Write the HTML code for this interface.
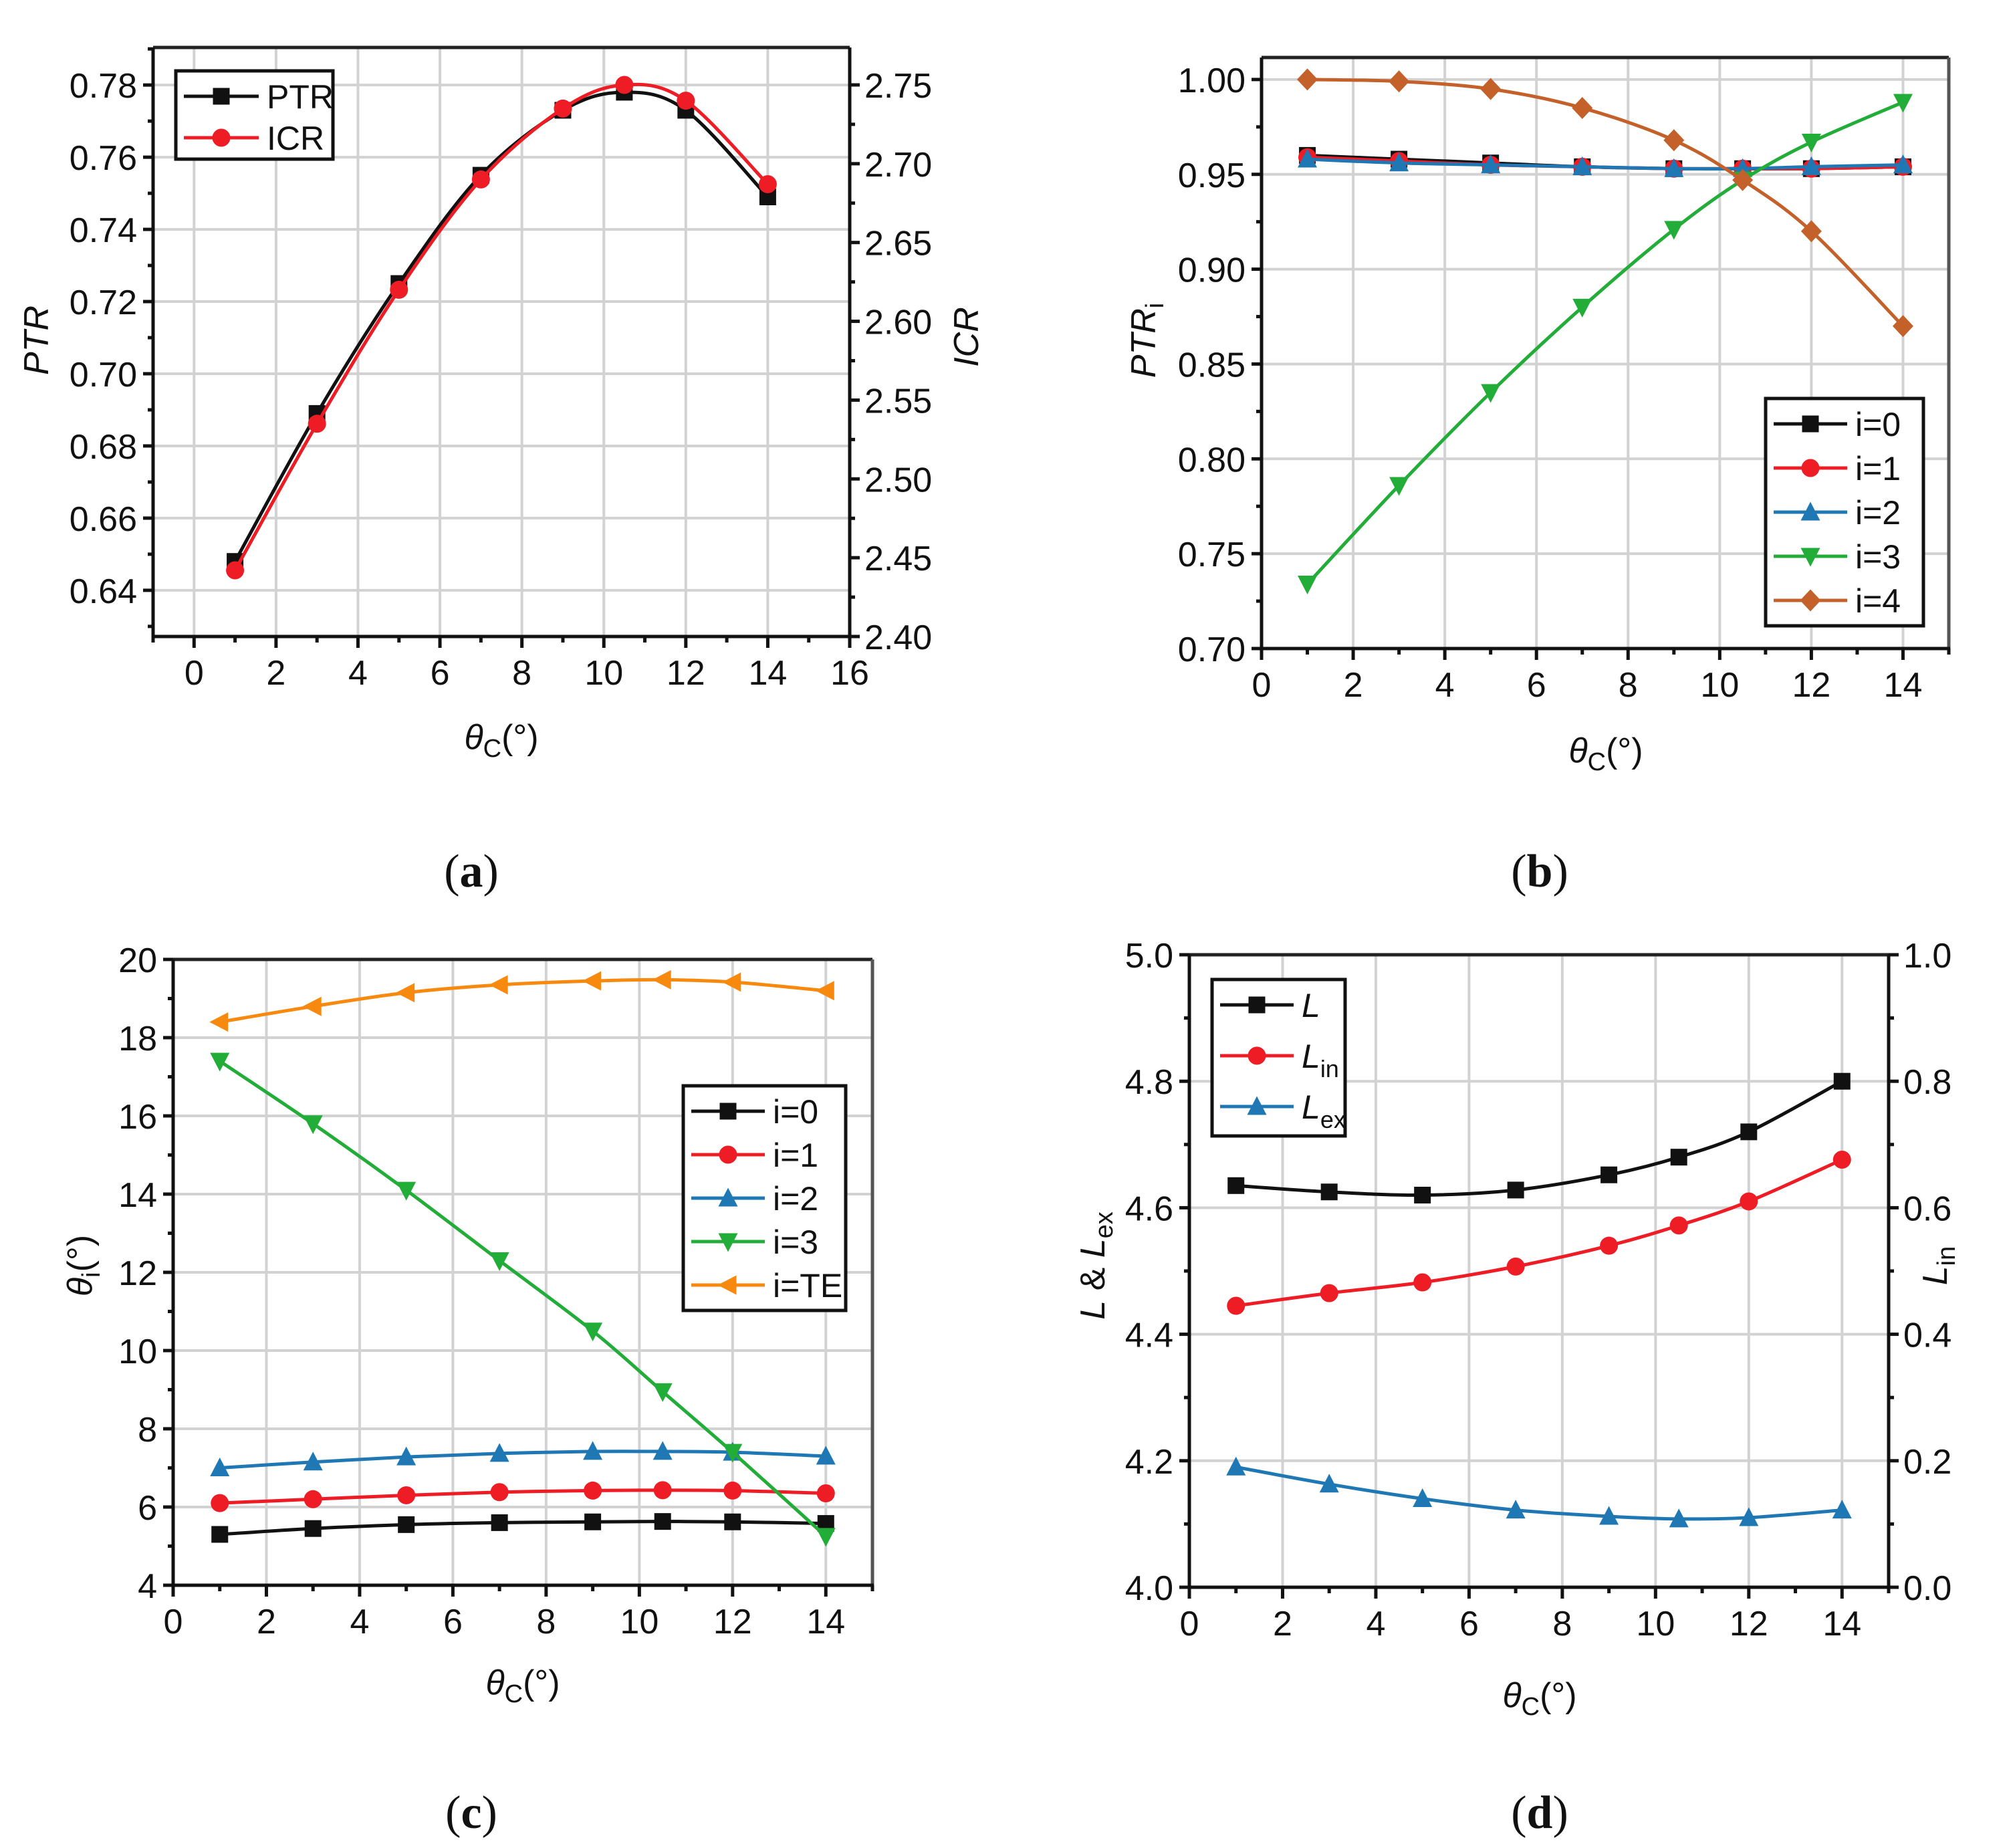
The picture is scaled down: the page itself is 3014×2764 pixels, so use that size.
<!DOCTYPE html>
<html><head><meta charset="utf-8">
<style>
html,body{margin:0;padding:0;background:#fff;}
svg{display:block;}
text{font-family:"Liberation Sans",sans-serif;}
</style></head>
<body>
<svg id="fig" width="3014" height="2764" viewBox="0 0 3014 2764" xmlns="http://www.w3.org/2000/svg"></svg>
<script>
// ---- data ----
const thetaC = [1, 3, 5, 7, 9, 10.5, 12, 14];
// panel a
const ptrValues = [0.648, 0.689, 0.725, 0.755, 0.773, 0.778, 0.773, 0.749];
const icrValues = [2.442, 2.535, 2.620, 2.690, 2.735, 2.750, 2.740, 2.687];
const aXTicks = [0, 2, 4, 6, 8, 10, 12, 14, 16];
const aYTicks = [0.64, 0.66, 0.68, 0.70, 0.72, 0.74, 0.76, 0.78];
const aYTickLabels = ["0.64", "0.66", "0.68", "0.70", "0.72", "0.74", "0.76", "0.78"];
const aY2Ticks = [2.40, 2.45, 2.50, 2.55, 2.60, 2.65, 2.70, 2.75];
const aY2TickLabels = ["2.40", "2.45", "2.50", "2.55", "2.60", "2.65", "2.70", "2.75"];
// panel b
const ptrI0 = [0.960, 0.958, 0.956, 0.954, 0.953, 0.953, 0.953, 0.954];
const ptrI1 = [0.959, 0.957, 0.955, 0.954, 0.953, 0.953, 0.953, 0.954];
const ptrI2 = [0.958, 0.956, 0.955, 0.954, 0.953, 0.953, 0.954, 0.955];
const ptrI3 = [0.734, 0.786, 0.835, 0.880, 0.921, 0.947, 0.967, 0.988];
const ptrI4 = [1.000, 0.999, 0.995, 0.985, 0.968, 0.947, 0.920, 0.870];
const bXTicks = [0, 2, 4, 6, 8, 10, 12, 14];
const bYTicks = [0.70, 0.75, 0.80, 0.85, 0.90, 0.95, 1.00];
const bYTickLabels = ["0.70", "0.75", "0.80", "0.85", "0.90", "0.95", "1.00"];
// panel c
const thI0 = [5.30, 5.45, 5.55, 5.60, 5.62, 5.63, 5.62, 5.58];
const thI1 = [6.10, 6.20, 6.30, 6.38, 6.42, 6.43, 6.42, 6.35];
const thI2 = [7.00, 7.15, 7.28, 7.37, 7.42, 7.42, 7.40, 7.30];
const thI3 = [17.4, 15.8, 14.1, 12.3, 10.5, 8.95, 7.40, 5.25];
const thTE = [18.4, 18.8, 19.15, 19.35, 19.45, 19.48, 19.42, 19.2];
const cXTicks = [0, 2, 4, 6, 8, 10, 12, 14];
const cYTicks = [4, 6, 8, 10, 12, 14, 16, 18, 20];
const cYTickLabels = ["4", "6", "8", "10", "12", "14", "16", "18", "20"];
// panel d
const lenL = [4.635, 4.625, 4.620, 4.628, 4.652, 4.680, 4.720, 4.800];
const lenIn = [0.445, 0.465, 0.482, 0.507, 0.540, 0.572, 0.610, 0.676];
const lenEx = [4.190, 4.163, 4.140, 4.122, 4.112, 4.108, 4.110, 4.122];
const dXTicks = [0, 2, 4, 6, 8, 10, 12, 14];
const dYTicks = [4.0, 4.2, 4.4, 4.6, 4.8, 5.0];
const dYTickLabels = ["4.0", "4.2", "4.4", "4.6", "4.8", "5.0"];
const dY2Ticks = [0.0, 0.2, 0.4, 0.6, 0.8, 1.0];
const dY2TickLabels = ["0.0", "0.2", "0.4", "0.6", "0.8", "1.0"];

const NS = "http://www.w3.org/2000/svg";
const svg = document.getElementById("fig");
function mk(tag, attrs, parent) {
  const e = document.createElementNS(NS, tag);
  for (const k in attrs) e.setAttribute(k, attrs[k]);
  (parent || svg).appendChild(e);
  return e;
}
function scale(d0, d1, r0, r1) { return v => r0 + (v - d0) / (d1 - d0) * (r1 - r0); }

function smoothPath(pts) {
  let d = "M" + pts[0][0] + "," + pts[0][1];
  for (let i = 0; i < pts.length - 1; i++) {
    const p0 = pts[i - 1] || pts[i], p1 = pts[i], p2 = pts[i + 1], p3 = pts[i + 2] || p2;
    const c1x = p1[0] + (p2[0] - p0[0]) / 6, c1y = p1[1] + (p2[1] - p0[1]) / 6;
    const c2x = p2[0] - (p3[0] - p1[0]) / 6, c2y = p2[1] - (p3[1] - p1[1]) / 6;
    d += " C" + c1x + "," + c1y + " " + c2x + "," + c2y + " " + p2[0] + "," + p2[1];
  }
  return d;
}

function marker(g, shape, x, y, color) {
  const s = 12.5;
  let e;
  if (shape === "square") e = mk("rect", {x: x - s, y: y - s, width: 2 * s, height: 2 * s, fill: color}, g);
  else if (shape === "circle") e = mk("circle", {cx: x, cy: y, r: s + 1, fill: color}, g);
  else if (shape === "up") e = mk("polygon", {points: `${x},${y - s - 3} ${x + s + 2},${y + s} ${x - s - 2},${y + s}`, fill: color}, g);
  else if (shape === "down") e = mk("polygon", {points: `${x},${y + s + 3} ${x + s + 2},${y - s} ${x - s - 2},${y - s}`, fill: color}, g);
  else if (shape === "diamond") e = mk("polygon", {points: `${x},${y - s - 4} ${x + s + 3},${y} ${x},${y + s + 4} ${x - s - 3},${y}`, fill: color}, g);
  else if (shape === "left") e = mk("polygon", {points: `${x - s - 3},${y} ${x + s},${y - s - 2} ${x + s},${y + s + 2}`, fill: color}, g);
  return e;
}

function panel(c) {
  const g = mk("g", {});
  
  
  const X = scale(c.xd[0], c.xd[1], c.L, c.R);
  const Y = scale(c.yd[0], c.yd[1], c.B, c.T);
  const Y2 = c.y2d ? scale(c.y2d[0], c.y2d[1], c.B, c.T) : null;
  const grid = mk("g", {stroke: "#d2d2d2", "stroke-width": 4}, g);
  
  
  c.xt.forEach(v => { const x = X(v); if (x > c.L + 3 && x < c.R - 3) mk("line", {x1: x, y1: c.T, x2: x, y2: c.B}, grid); });
  c.yt.forEach(v => { const y = Y(v); if (y > c.T + 3 && y < c.B - 3) mk("line", {x1: c.L, y1: y, x2: c.R, y2: y}, grid); });
  mk("line", {x1: c.L, y1: c.T, x2: c.R, y2: c.T, stroke: "#222", "stroke-width": 5}, g);
  mk("line", {x1: c.R, y1: c.T, x2: c.R, y2: c.B, stroke: c.y2d ? "#111" : "#555", "stroke-width": 5}, g);
  const ax = mk("g", {stroke: "#111", "stroke-width": 5}, g);
  
  
  mk("line", {x1: c.L, y1: c.T, x2: c.L, y2: c.B + 2}, ax);
  mk("line", {x1: c.L - 2, y1: c.B, x2: c.R + 2, y2: c.B}, ax);
  for (let v = c.xd[0]; v <= c.xd[1] + 1e-6; v += c.xminor) {
    const x = X(v);
    const major = c.xt.some(t => Math.abs(t - v) < 1e-6);
    mk("line", {x1: x, y1: c.B, x2: x, y2: c.B + (major ? 17 : 9)}, ax);
  }
  const xl = mk("g", {"font-size": 52, fill: "#111", "text-anchor": "middle"}, g);
  
  
  c.xt.forEach(v => { const t = mk("text", {x: X(v), y: c.B + 72}, xl); t.textContent = String(v); });
  const y0 = Math.ceil((c.yd[0] - 1e-9) / c.yminor) * c.yminor;
  for (let v = y0; v <= c.yd[1] + 1e-9; v += c.yminor) {
    const y = Y(v);
    const major = c.yt.some(t => Math.abs(t - v) < 1e-6);
    mk("line", {x1: c.L, y1: y, x2: c.L - (major ? 15 : 8), y2: y}, ax);
  }
  const yl = mk("g", {"font-size": 52, fill: "#111", "text-anchor": "end"}, g);
  
  
  c.yt.forEach((v, i) => { const t = mk("text", {x: c.L - 24, y: Y(v) + 19}, yl); t.textContent = c.ytl[i]; });
  if (Y2) {
    mk("line", {x1: c.R, y1: c.T, x2: c.R, y2: c.B + 2}, ax);
    const yy0 = Math.ceil((c.y2d[0] - 1e-9) / c.y2minor) * c.y2minor;
    for (let v = yy0; v <= c.y2d[1] + 1e-9; v += c.y2minor) {
      const y = Y2(v);
      const major = c.y2t.some(t => Math.abs(t - v) < 1e-6);
      mk("line", {x1: c.R, y1: y, x2: c.R + (major ? 15 : 8), y2: y}, ax);
    }
    const y2l = mk("g", {"font-size": 52, fill: "#111", "text-anchor": "start"}, g);
    
    
    c.y2t.forEach((v, i) => { const t = mk("text", {x: c.R + 22, y: Y2(v) + 19}, y2l); t.textContent = c.y2tl[i]; });
  }
  c.series.forEach(s => {
    const sy = s.right ? Y2 : Y;
    const sg = mk("g", {}, g);
    
    
    const pts = thetaC.map((x, i) => [X(x), sy(s.ys[i])]);
    mk("path", {d: smoothPath(pts), fill: "none", stroke: s.color, "stroke-width": 5}, sg);
    pts.forEach(p => {
      const m = marker(sg, s.shape, p[0], p[1], s.color);
      
      
    });
  });
  const lg = mk("g", {}, g);
  
  
  const Lb = c.leg;
  mk("rect", {x: Lb.x, y: Lb.y, width: Lb.w, height: Lb.h, fill: "#fff", stroke: "#111", "stroke-width": 5}, lg);
  c.series.forEach((s, i) => {
    const e = mk("g", {}, lg);
    
    
    const y = Lb.y + Lb.r0 + i * Lb.dy;
    mk("line", {x1: Lb.x + 12, y1: y, x2: Lb.x + 12 + Lb.lw, y2: y, stroke: s.color, "stroke-width": 5}, e);
    marker(e, s.shape, Lb.x + 12 + Lb.lw / 2, y, s.color);
    const t = mk("text", {x: Lb.x + 24 + Lb.lw, y: y + 18, "font-size": 50, fill: "#111"}, e);
    t.innerHTML = s.label;
  });
  return g;
}

function txt(name, attrs, html) {
  const t = mk("text", attrs);
  
  
  t.innerHTML = html;
  return t;
}

const colBlack = "#111", colRed = "#ee1c25", colBlue = "#1f78b4", colGreen = "#22ac38", colBrown = "#c4612a", colOrange = "#f7890f";

panel({name: "panel-a", L: 229, R: 1271, T: 71, B: 952, xd: [-1, 16], yd: [0.6272, 0.7904], y2d: [2.40, 2.75 + (127 - 71) * 0.35 / 825],
  xt: aXTicks, xminor: 1, yt: aYTicks, ytl: aYTickLabels, yminor: 0.01, y2t: aY2Ticks, y2tl: aY2TickLabels, y2minor: 0.025,
  series: [
    {id: "ptr-series", ys: ptrValues, color: colBlack, shape: "square", label: "PTR"},
    {id: "icr-series", ys: icrValues, color: colRed, shape: "circle", label: "ICR", right: true}
  ],
  leg: {x: 263, y: 106, w: 235, h: 132, r0: 38, dy: 62, lw: 112}});

panel({name: "panel-b", L: 1887, R: 2915, T: 86, B: 970, xd: [0, 15], yd: [0.70, 1.0116],
  xt: bXTicks, xminor: 1, yt: bYTicks, ytl: bYTickLabels, yminor: 0.025,
  series: [
    {id: "ptr-i0", ys: ptrI0, color: colBlack, shape: "square", label: "i=0"},
    {id: "ptr-i1", ys: ptrI1, color: colRed, shape: "circle", label: "i=1"},
    {id: "ptr-i2", ys: ptrI2, color: colBlue, shape: "up", label: "i=2"},
    {id: "ptr-i3", ys: ptrI3, color: colGreen, shape: "down", label: "i=3"},
    {id: "ptr-i4", ys: ptrI4, color: colBrown, shape: "diamond", label: "i=4"}
  ],
  leg: {x: 2641, y: 596, w: 236, h: 340, r0: 38, dy: 66, lw: 110}});

panel({name: "panel-c", L: 259, R: 1305, T: 1435, B: 2371, xd: [0, 15], yd: [4, 20],
  xt: cXTicks, xminor: 1, yt: cYTicks, ytl: cYTickLabels, yminor: 1,
  series: [
    {id: "theta-i0", ys: thI0, color: colBlack, shape: "square", label: "i=0"},
    {id: "theta-i1", ys: thI1, color: colRed, shape: "circle", label: "i=1"},
    {id: "theta-i2", ys: thI2, color: colBlue, shape: "up", label: "i=2"},
    {id: "theta-i3", ys: thI3, color: colGreen, shape: "down", label: "i=3"},
    {id: "theta-te", ys: thTE, color: colOrange, shape: "left", label: "i=TE"}
  ],
  leg: {x: 1022, y: 1624, w: 243, h: 336, r0: 38, dy: 65, lw: 110}});

panel({name: "panel-d", L: 1779, R: 2825, T: 1428, B: 2374, xd: [0, 15], yd: [4.0, 5.0], y2d: [0, 1],
  xt: dXTicks, xminor: 1, yt: dYTicks, ytl: dYTickLabels, yminor: 0.1, y2t: dY2Ticks, y2tl: dY2TickLabels, y2minor: 0.1,
  series: [
    {id: "length-l", ys: lenL, color: colBlack, shape: "square", label: '<tspan font-style="italic">L</tspan>'},
    {id: "length-in", ys: lenIn, color: colRed, shape: "circle", label: '<tspan font-style="italic">L</tspan><tspan font-size="36" dy="14">in</tspan>', right: true},
    {id: "length-ex", ys: lenEx, color: colBlue, shape: "up", label: '<tspan font-style="italic">L</tspan><tspan font-size="36" dy="14">ex</tspan>'}
  ],
  leg: {x: 1813, y: 1465, w: 199, h: 234, r0: 38, dy: 76, lw: 110}});

const thetaC_html = '<tspan font-style="italic">θ</tspan><tspan font-size="38" dy="12">C</tspan><tspan dy="-12">(°)</tspan>';
txt("x-axis-title-a", {x: 750, y: 1120, "font-size": 52, "text-anchor": "middle", fill: "#111"}, thetaC_html);
txt("x-axis-title-b", {x: 2402, y: 1140, "font-size": 52, "text-anchor": "middle", fill: "#111"}, thetaC_html);
txt("x-axis-title-c", {x: 782, y: 2534, "font-size": 52, "text-anchor": "middle", fill: "#111"}, thetaC_html);
txt("x-axis-title-d", {x: 2303, y: 2553, "font-size": 52, "text-anchor": "middle", fill: "#111"}, thetaC_html);
txt("y-axis-title-a", {x: 0, y: 0, "font-size": 52, "text-anchor": "middle", fill: "#111", "font-style": "italic", transform: "translate(72,509) rotate(-90)"}, "PTR");
txt("y2-axis-title-a", {x: 0, y: 0, "font-size": 52, "text-anchor": "middle", fill: "#111", "font-style": "italic", transform: "translate(1463,504) rotate(-90)"}, "ICR");
txt("y-axis-title-b", {x: 0, y: 0, "font-size": 52, "text-anchor": "middle", fill: "#111", transform: "translate(1728,509) rotate(-90)"}, '<tspan font-style="italic">PTR</tspan><tspan font-size="38" dy="12">i</tspan>');
txt("y-axis-title-c", {x: 0, y: 0, "font-size": 52, "text-anchor": "middle", fill: "#111", transform: "translate(137,1893) rotate(-90)"}, '<tspan font-style="italic">θ</tspan><tspan font-size="38" dy="12">i</tspan><tspan dy="-12">(°)</tspan>');
txt("y-axis-title-d", {x: 0, y: 0, "font-size": 52, "text-anchor": "middle", fill: "#111", transform: "translate(1652,1893) rotate(-90)"}, '<tspan font-style="italic">L</tspan> &amp; <tspan font-style="italic">L</tspan><tspan font-size="38" dy="12">ex</tspan>');
txt("y2-axis-title-d", {x: 0, y: 0, "font-size": 52, "text-anchor": "middle", fill: "#111", transform: "translate(2912,1893) rotate(-90)"}, '<tspan font-style="italic">L</tspan><tspan font-size="38" dy="12">in</tspan>');

const cap = (n, x, y, l) => txt(n, {x: x, y: y, "text-anchor": "middle", fill: "#111", style: "font-family:'Liberation Serif',serif;font-size:70px;"}, '(<tspan font-weight="bold">' + l + '</tspan>)');
cap("caption-a", 705, 1326, "a");
cap("caption-b", 2303, 1326, "b");
cap("caption-c", 705, 2734, "c");
cap("caption-d", 2303, 2734, "d");
</script>
</body></html>
